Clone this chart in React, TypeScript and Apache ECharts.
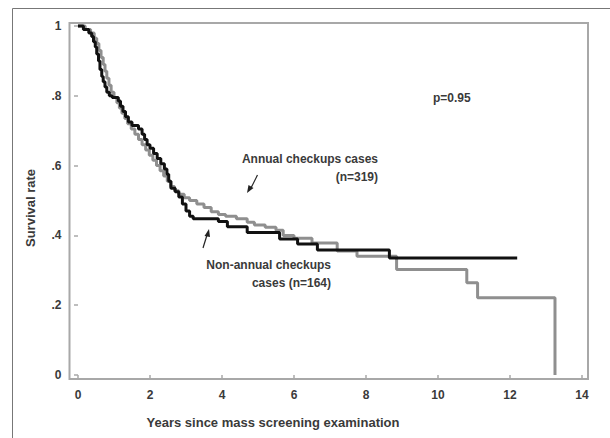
import React, { useEffect, useRef } from "react";
import * as echarts from "echarts";

// Kaplan-Meier curves (years, survival)
const annualT = [0, 0.2, 0.35, 0.45, 0.52, 0.58, 0.64, 0.7, 0.75, 0.8, 0.86, 0.92, 1.0, 1.08, 1.15, 1.22, 1.3, 1.38, 1.48, 1.58, 1.68, 1.78, 1.88, 1.98, 2.08, 2.18, 2.28, 2.38, 2.48, 2.58, 2.68, 2.8, 2.95, 3.1, 3.3, 3.5, 3.7, 3.9, 4.1, 4.4, 4.7, 4.9, 5.2, 5.5, 5.7, 6.0, 6.5, 7.2, 7.75, 8.85, 10.8, 11.1, 13.25];
const annualS = [1.0, 0.99, 0.98, 0.965, 0.95, 0.93, 0.91, 0.89, 0.87, 0.85, 0.83, 0.81, 0.795, 0.78, 0.765, 0.75, 0.735, 0.72, 0.705, 0.69, 0.675, 0.66, 0.645, 0.63, 0.615, 0.6, 0.585, 0.57, 0.555, 0.54, 0.528, 0.518, 0.508, 0.5, 0.49, 0.48, 0.468, 0.46, 0.455, 0.448, 0.438, 0.43, 0.423, 0.415, 0.4, 0.392, 0.378, 0.355, 0.34, 0.302, 0.264, 0.221, 0.0];

const nonAnnualT = [0, 0.15, 0.3, 0.38, 0.43, 0.48, 0.52, 0.57, 0.61, 0.66, 0.7, 0.75, 0.8, 0.87, 0.95, 1.12, 1.18, 1.25, 1.32, 1.4, 1.5, 1.68, 1.78, 1.85, 1.92, 2.0, 2.1, 2.2, 2.3, 2.4, 2.47, 2.52, 2.58, 2.7, 2.8, 2.9, 3.0, 3.1, 3.2, 3.9, 4.15, 4.7, 5.6, 6.1, 6.65, 8.65, 12.2];
const nonAnnualS = [1.0, 0.99, 0.98, 0.97, 0.955, 0.94, 0.92, 0.9, 0.875, 0.855, 0.84, 0.825, 0.81, 0.8, 0.795, 0.785, 0.77, 0.755, 0.74, 0.725, 0.715, 0.705, 0.69, 0.675, 0.66, 0.65, 0.635, 0.62, 0.605, 0.59, 0.575, 0.555, 0.535, 0.525, 0.51, 0.49, 0.47, 0.455, 0.448, 0.44, 0.425, 0.408, 0.39, 0.375, 0.358, 0.335, 0.335];

const xTicks = [0, 2, 4, 6, 8, 10, 12, 14];
const yTicks = [0, 0.2, 0.4, 0.6, 0.8, 1];
const yTickLabels = ["0", ".2", ".4", ".6", ".8", "1"];

const FONT = "'Liberation Sans', Arial, sans-serif";
const TXT = "#3a3a3a";

export default function App() {
  const ref = useRef<HTMLDivElement>(null);
  useEffect(() => {
    if (!ref.current) return;
    const chart = echarts.init(ref.current, undefined, { renderer: "svg" });
    const annualData = annualT.map((t, i) => [t, annualS[i]]);
    const nonAnnualData = nonAnnualT.map((t, i) => [t, nonAnnualS[i]]);
    chart.setOption({
      animation: false,
      backgroundColor: "#ffffff",
      grid: {
        left: 69.5,
        top: 23,
        right: 22,
        bottom: 59,
        show: true,
        borderColor: "#a8a8a8",
        borderWidth: 2,
        backgroundColor: "transparent",
      },
      xAxis: {
        type: "value",
        min: -0.236,
        max: 14.167,
        splitLine: { show: false },
        axisLine: { show: false },
        axisTick: {
          show: true,
          customValues: xTicks,
          length: 4,
          lineStyle: { color: "#a8a8a8", width: 1.5 },
        },
        axisLabel: {
          customValues: xTicks,
          margin: 10,
          color: TXT,
          fontSize: 12,
          fontFamily: FONT,
          fontWeight: "bold",
        },
      },
      yAxis: {
        type: "value",
        min: -0.0115,
        max: 1.0086,
        splitLine: { show: false },
        axisLine: { show: false },
        axisTick: {
          show: true,
          customValues: yTicks,
          length: 4,
          lineStyle: { color: "#a8a8a8", width: 1.5 },
        },
        axisLabel: {
          customValues: yTicks,
          margin: 8,
          color: TXT,
          fontSize: 12,
          fontFamily: FONT,
          fontWeight: "bold",
          formatter: (v: number) => {
            const idx = yTicks.findIndex((t) => Math.abs(t - v) < 1e-6);
            return idx >= 0 ? yTickLabels[idx] : "";
          },
        },
      },
      series: [
        {
          name: "Annual checkups cases (n=319)",
          type: "line",
          step: "end",
          data: annualData,
          showSymbol: false,
          symbol: "none",
          lineStyle: { color: "#8f8f8f", width: 3 },
          z: 2,
        },
        {
          name: "Non-annual checkups cases (n=164)",
          type: "line",
          step: "end",
          data: nonAnnualData,
          showSymbol: false,
          symbol: "none",
          lineStyle: { color: "#111111", width: 3 },
          z: 3,
        },
      ],
      graphic: [
        {
          type: "rect",
          shape: { x: 12.5, y: 8.5, width: 640, height: 460 },
          style: { fill: "none", stroke: "#777", lineWidth: 1 },
          silent: true,
        },
        {
          type: "text",
          x: 273,
          y: 422,
          style: {
            text: "Years since mass screening examination",
            fill: TXT,
            font: `bold 13px ${FONT}`,
            align: "center",
            verticalAlign: "middle",
          },
        },
        {
          type: "text",
          x: 30,
          y: 208,
          rotation: Math.PI / 2,
          style: {
            text: "Survival rate",
            fill: TXT,
            font: `bold 13px ${FONT}`,
            align: "center",
            verticalAlign: "middle",
          },
        },
        {
          type: "text",
          x: 433,
          y: 98,
          style: {
            text: "p=0.95",
            fill: TXT,
            font: `bold 12px ${FONT}`,
            align: "left",
            verticalAlign: "middle",
          },
        },
        {
          type: "text",
          x: 378,
          y: 159,
          style: {
            text: "Annual checkups cases",
            fill: TXT,
            font: `bold 12px ${FONT}`,
            align: "right",
            verticalAlign: "middle",
          },
        },
        {
          type: "text",
          x: 378,
          y: 177,
          style: {
            text: "(n=319)",
            fill: TXT,
            font: `bold 12px ${FONT}`,
            align: "right",
            verticalAlign: "middle",
          },
        },
        {
          type: "text",
          x: 331,
          y: 265,
          style: {
            text: "Non-annual checkups",
            fill: TXT,
            font: `bold 12px ${FONT}`,
            align: "right",
            verticalAlign: "middle",
          },
        },
        {
          type: "text",
          x: 331,
          y: 283,
          style: {
            text: "cases (n=164)",
            fill: TXT,
            font: `bold 12px ${FONT}`,
            align: "right",
            verticalAlign: "middle",
          },
        },
        {
          type: "line",
          shape: { x1: 257.5, y1: 175, x2: 251, y2: 188 },
          style: { stroke: "#222", lineWidth: 1.2 },
        },
        {
          type: "polygon",
          shape: { points: [[247, 193], [248.5, 185], [253.5, 188]] },
          style: { fill: "#222" },
        },
        {
          type: "line",
          shape: { x1: 203, y1: 248, x2: 207, y2: 235 },
          style: { stroke: "#222", lineWidth: 1.2 },
        },
        {
          type: "polygon",
          shape: { points: [[209, 229], [204.5, 236], [210, 237]] },
          style: { fill: "#222" },
        },
      ],
    });
    return () => chart.dispose();
  }, []);
  return <div ref={ref} style={{ width: 610, height: 438, position: "absolute", left: 0, top: 0 }} />;
}
